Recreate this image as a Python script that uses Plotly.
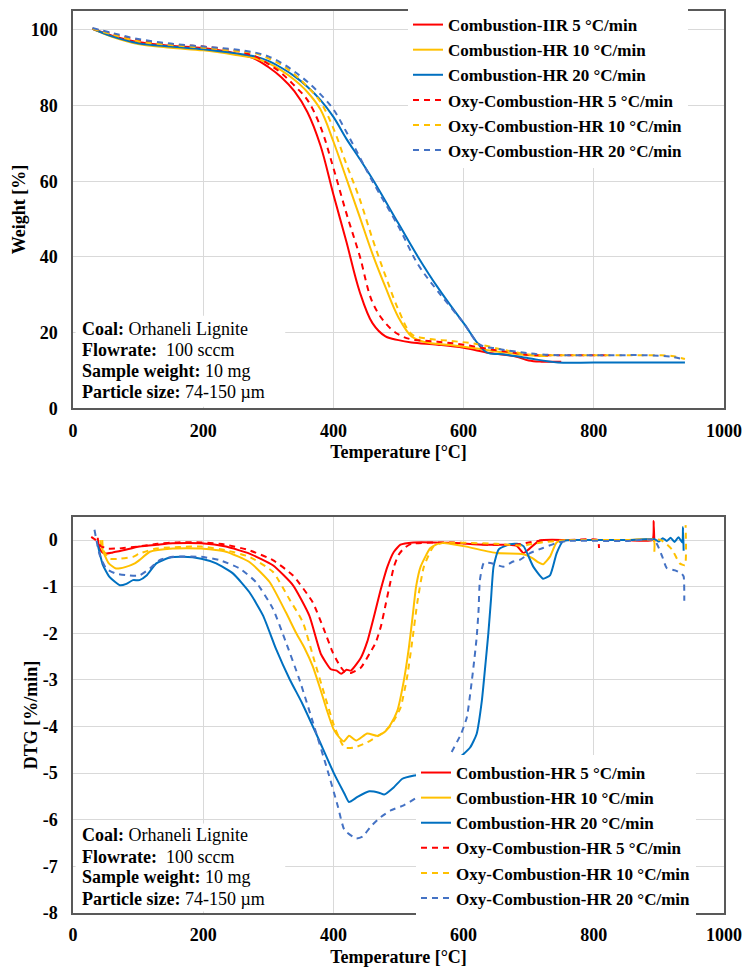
import plotly.graph_objects as go

FONT = "Liberation Serif, Times New Roman, serif"

# ---------------- TGA (weight %) ----------------
T_tga_c5 = [30, 60, 100, 150, 200, 250, 280, 300, 320, 340, 360, 380, 400, 420, 440, 460, 480, 500, 520, 560, 600, 640, 680, 700, 720, 750]
W_tga_c5 = [100.3, 98.5, 96.8, 95.8, 95.2, 93.8, 92.3, 90.2, 87.5, 83.8, 78.3, 69.5, 56.5, 44.0, 31.0, 22.5, 19.0, 18.0, 17.4, 16.8, 16.0, 14.6, 13.7, 12.6, 12.3, 12.3]

T_tga_c10 = [30, 60, 100, 150, 200, 250, 280, 300, 320, 340, 360, 380, 400, 420, 440, 460, 480, 500, 520, 540, 580, 620, 660, 700, 730]
W_tga_c10 = [100.3, 98.2, 96.3, 95.3, 94.6, 93.4, 92.5, 91.2, 89.3, 86.8, 83.6, 79.0, 70.5, 60.7, 50.8, 40.8, 32.0, 24.0, 19.0, 17.5, 16.7, 15.8, 14.8, 14.0, 13.8]

T_tga_c20 = [30, 60, 100, 150, 200, 250, 280, 300, 320, 340, 360, 380, 400, 420, 440, 460, 500, 530, 560, 600, 635, 660, 700, 745, 800, 880, 940]
W_tga_c20 = [100.3, 98.3, 96.5, 95.6, 94.9, 93.8, 93.0, 91.8, 90.0, 87.8, 85.0, 81.5, 77.0, 71.2, 66.0, 60.6, 48.8, 40.0, 32.0, 22.5, 14.8, 14.3, 13.2, 12.1, 12.1, 12.1, 12.1]

T_tga_o5 = [30, 60, 100, 150, 200, 250, 280, 300, 320, 340, 360, 380, 400, 420, 440, 460, 480, 500, 520, 560, 600, 640, 680, 700, 740, 780, 820]
W_tga_o5 = [100.3, 99.0, 97.3, 96.2, 95.6, 94.5, 93.0, 91.0, 88.6, 85.3, 81.5, 74.5, 63.5, 51.5, 40.5, 28.0, 22.5, 19.5, 18.2, 17.6, 16.8, 15.6, 14.6, 14.1, 14.0, 14.0, 14.0]

T_tga_o10 = [30, 60, 100, 150, 200, 250, 280, 300, 320, 340, 360, 380, 400, 420, 440, 460, 480, 500, 520, 540, 580, 620, 660, 700, 740, 800, 860, 900, 920, 940]
W_tga_o10 = [100.3, 98.8, 97.0, 96.0, 95.3, 94.4, 93.8, 92.5, 90.8, 88.3, 85.0, 81.0, 74.0, 64.5, 55.5, 44.8, 35.0, 26.0, 19.6, 18.5, 17.8, 17.0, 15.5, 14.2, 14.0, 14.0, 14.0, 14.0, 13.8, 13.0]

T_tga_o20 = [30, 60, 100, 150, 200, 250, 280, 300, 320, 340, 360, 380, 400, 420, 440, 460, 500, 530, 560, 600, 625, 650, 680, 720, 800, 880, 920, 940]
W_tga_o20 = [100.5, 99.2, 97.6, 96.4, 95.6, 94.8, 94.0, 93.0, 91.3, 89.0, 86.3, 83.0, 79.0, 73.0, 66.5, 60.0, 48.0, 38.0, 31.0, 22.5, 16.8, 15.8, 15.0, 14.2, 14.0, 14.0, 13.6, 12.8]

# ---------------- DTG (%/min) ----------------
T_dtg_c5 = [38, 40, 44, 50, 60, 77, 102, 130, 153, 197, 235, 271, 307, 338, 363, 381, 396, 405, 412, 420, 427, 442, 452, 463, 472, 483, 493, 503, 523, 580, 631, 665, 682, 692, 700, 717, 760, 800, 850, 890, 892, 893]
D_dtg_c5 = [0.05, -0.15, -0.25, -0.29, -0.27, -0.22, -0.14, -0.1, -0.07, -0.07, -0.14, -0.29, -0.54, -0.97, -1.62, -2.45, -2.77, -2.8, -2.87, -2.78, -2.8, -2.53, -2.18, -1.6, -1.1, -0.57, -0.25, -0.1, -0.05, -0.06, -0.1, -0.1, -0.13, -0.28, -0.2, -0.01, 0, 0, 0, 0, 0.41, -0.04]

T_dtg_c10 = [42, 45, 55, 66, 80, 95, 102, 118, 153, 197, 235, 271, 302, 327, 343, 355, 368, 380, 390, 400, 410, 416, 424, 435, 452, 468, 480, 488, 498, 508, 516, 522, 527, 534, 549, 564, 600, 651, 690, 705, 715, 722, 733, 743, 760, 800, 850, 892, 893]
D_dtg_c10 = [0.0, -0.2, -0.5, -0.61, -0.58, -0.5, -0.43, -0.25, -0.18, -0.18, -0.25, -0.47, -0.9, -1.55, -2.0, -2.3, -2.7, -3.2, -3.65, -4.05, -4.25, -4.32, -4.2, -4.3, -4.15, -4.2, -4.1, -3.95, -3.67, -3.03, -2.3, -1.6, -1.0, -0.57, -0.17, -0.06, -0.13, -0.28, -0.3, -0.38, -0.48, -0.52, -0.35, -0.05, 0, 0, 0, 0, -0.25]

T_dtg_c20 = [38, 46, 56, 72, 82, 92, 102, 113, 128, 148, 169, 197, 220, 246, 271, 292, 312, 333, 352, 376, 401, 417, 424, 437, 455, 470, 478, 493, 506, 525, 545, 569, 590, 610, 620, 628, 634, 638, 642, 646, 654, 671, 682, 692, 707, 722, 733, 743, 753, 790, 850, 893, 900, 906, 912, 918, 924, 930, 936, 937, 938]
D_dtg_c20 = [-0.1, -0.54, -0.79, -0.97, -0.94, -0.86, -0.86, -0.76, -0.5, -0.38, -0.36, -0.4, -0.5, -0.72, -1.12, -1.62, -2.34, -2.99, -3.5, -4.23, -5.01, -5.44, -5.62, -5.51, -5.39, -5.42, -5.46, -5.3, -5.12, -5.05, -5.0, -4.8, -4.7, -4.45, -4.16, -3.45, -2.6, -2.0, -1.29, -0.57, -0.2, -0.09, -0.08, -0.13, -0.57, -0.83, -0.75, -0.28, -0.02, 0, 0, 0.02, -0.03, 0.04, -0.02, 0.05, -0.04, 0.06, -0.05, 0.28, -0.23]

T_dtg_o5 = [28, 35, 42, 51, 70, 100, 130, 160, 197, 235, 271, 307, 338, 368, 385, 399, 410, 417, 427, 442, 457, 465, 473, 480, 486, 493, 500, 508, 520, 580, 640, 680, 700, 720, 760, 806, 808]
D_dtg_o5 = [0.07, 0.0, -0.12, -0.18, -0.18, -0.14, -0.08, -0.05, -0.05, -0.1, -0.22, -0.43, -0.76, -1.33, -1.9, -2.41, -2.7, -2.82, -2.85, -2.74, -2.4, -2.2, -1.85, -1.4, -1.0, -0.57, -0.32, -0.18, -0.08, -0.05, -0.1, -0.1, -0.05, -0.01, 0, 0, -0.17]

T_dtg_o10 = [45, 46, 50, 56, 72, 92, 102, 128, 197, 235, 271, 307, 332, 353, 371, 386, 402, 417, 432, 452, 473, 488, 503, 513, 521, 529, 539, 554, 569, 650, 690, 720, 760, 850, 903, 920, 932, 940, 941]
D_dtg_o10 = [0.0, -0.2, -0.3, -0.4, -0.4, -0.36, -0.29, -0.18, -0.14, -0.22, -0.36, -0.68, -1.26, -1.76, -2.6, -3.3, -4.02, -4.45, -4.45, -4.34, -4.16, -3.98, -3.6, -2.96, -2.18, -1.33, -0.57, -0.13, -0.06, -0.08, -0.12, -0.05, 0, 0, 0, -0.2, -0.5, -0.54, 0.32]

T_dtg_o20 = [33, 41, 51, 66, 87, 102, 118, 133, 153, 197, 225, 256, 281, 307, 327, 348, 371, 391, 407, 417, 435, 445, 457, 473, 488, 508, 530, 550, 564, 580, 596, 605, 615, 620, 623, 625, 631, 641, 661, 676, 687, 702, 722, 743, 758, 850, 893, 905, 912, 925, 935, 938, 939]
D_dtg_o20 = [0.22, -0.32, -0.61, -0.72, -0.76, -0.76, -0.61, -0.43, -0.36, -0.36, -0.43, -0.61, -0.9, -1.47, -2.19, -3.0, -4.02, -4.94, -5.72, -6.22, -6.4, -6.36, -6.15, -5.94, -5.8, -5.69, -5.5, -5.2, -5.0, -4.59, -4.16, -3.8, -2.74, -2.1, -1.5, -0.86, -0.49, -0.49, -0.57, -0.46, -0.42, -0.28, -0.17, -0.06, -0.02, -0.02, 0, -0.35, -0.6, -0.65, -0.72, -0.78, -1.3]

series_names = ["Combustion-HR 5 °C/min", "Combustion-HR 10 °C/min", "Combustion-HR 20 °C/min",
                "Oxy-Combustion-HR 5 °C/min", "Oxy-Combustion-HR 10 °C/min", "Oxy-Combustion-HR 20 °C/min"]
top_legend_names = ["Combustion-IIR 5 °C/min"] + series_names[1:]
series_colors = ["#FF0000", "#FFC000", "#0070C0", "#FF0000", "#FFC000", "#4472C4"]
series_dash = ["solid", "solid", "solid", "6px,5px", "6px,5px", "6px,5px"]

x_ticks = [0, 200, 400, 600, 800, 1000]
w_ticks = [0, 20, 40, 60, 80, 100]
d_ticks = [-8, -7, -6, -5, -4, -3, -2, -1, 0]
d_ticktext = ["-8", "-7", "-6", "-5", "-4", "-3", "-2", "-1", "0"]

info_labels = ["Coal:", "Flowrate:", "Sample weight:", "Particle size:"]
info_values = ["Orhaneli Lignite", " 100 sccm", "10 mg", "74-150 µm"]

tga = [(T_tga_c5, W_tga_c5), (T_tga_c10, W_tga_c10), (T_tga_c20, W_tga_c20),
       (T_tga_o5, W_tga_o5), (T_tga_o10, W_tga_o10), (T_tga_o20, W_tga_o20)]
dtg = [(T_dtg_c5, D_dtg_c5), (T_dtg_c10, D_dtg_c10), (T_dtg_c20, D_dtg_c20),
       (T_dtg_o5, D_dtg_o5), (T_dtg_o10, D_dtg_o10), (T_dtg_o20, D_dtg_o20)]

fig = go.Figure()
for i, (t, w) in enumerate(tga):
    fig.add_trace(go.Scatter(x=t, y=w, mode="lines", name=top_legend_names[i],
                             line=dict(color=series_colors[i], width=2, dash=series_dash[i],
                                       shape="spline", smoothing=1.0),
                             xaxis="x", yaxis="y", legend="legend"))
for i, (t, d) in enumerate(dtg):
    fig.add_trace(go.Scatter(x=t, y=d, mode="lines", name=series_names[i],
                             line=dict(color=series_colors[i], width=2, dash=series_dash[i],
                                       shape="spline", smoothing=0.5),
                             xaxis="x2", yaxis="y2", legend="legend2"))

tickfont = dict(family=FONT, size=18, color="black", weight="bold")
titlefont = dict(family=FONT, size=18, color="black", weight="bold")
axis_common = dict(showgrid=True, gridcolor="#D9D9D9", gridwidth=1, zeroline=False,
                   showline=True, mirror=True, linecolor="#595959", linewidth=1.5,
                   ticks="", tickfont=tickfont, automargin=False)

top_dom = [(913 - 406) / 906, 1.0]
bot_dom = [0.0, (913 - 515) / 906]

fig.update_layout(
    width=744, height=971,
    margin=dict(l=73, r=20, t=7, b=58),
    paper_bgcolor="white", plot_bgcolor="white",
    xaxis=dict(domain=[0, 1], anchor="y", range=[0, 1000], tickvals=x_ticks,
               title=dict(text="Temperature [°C]", font=titlefont, standoff=6),
               ticklabelstandoff=5, **axis_common),
    yaxis=dict(domain=top_dom, anchor="x", range=[0, 105], tickvals=w_ticks,
               title=dict(text="Weight [%]", font=titlefont, standoff=0),
               ticklabelstandoff=10, **axis_common),
    xaxis2=dict(domain=[0, 1], anchor="y2", range=[0, 1000], tickvals=x_ticks,
                title=dict(text="Temperature [°C]", font=titlefont, standoff=6),
                ticklabelstandoff=5, **axis_common),
    yaxis2=dict(domain=bot_dom, anchor="x2", range=[-8, 0.5], tickvals=d_ticks, ticktext=d_ticktext,
                title=dict(text="DTG [%/min]", font=titlefont, standoff=0),
                ticklabelstandoff=10, **axis_common),
    legend=dict(x=(408 - 73) / 651, y=1.0044, xanchor="left", yanchor="top",
                bgcolor="white", borderwidth=0,
                font=dict(family=FONT, size=17, color="black", weight="bold")),
    legend2=dict(x=(416 - 73) / 651, y=-3 / 906, xanchor="left", yanchor="bottom",
                 bgcolor="white", borderwidth=0,
                 font=dict(family=FONT, size=17, color="black", weight="bold")),
    showlegend=True,
)

# white boxes behind the info text (hide gridlines)
fig.add_shape(type="rect", xref="x domain", yref="y domain", x0=0.004, x1=0.326, y0=0.004, y1=0.233,
              fillcolor="white", line=dict(width=0), layer="above")
fig.add_shape(type="rect", xref="x2 domain", yref="y2 domain", x0=0.004, x1=0.326, y0=0.004, y1=0.226,
              fillcolor="white", line=dict(width=0), layer="above")

top_info_y = [0.2005, 0.1454, 0.0927, 0.0401]
bot_info_y = [0.196, 0.1407, 0.0905, 0.0352]
for ax, ys in (("", top_info_y), ("2", bot_info_y)):
    for lab, val, yy in zip(info_labels, info_values, ys):
        fig.add_annotation(xref=f"x{ax} domain", yref=f"y{ax} domain", x=0.011, y=yy,
                           xanchor="left", yanchor="middle", showarrow=False,
                           text=f"<b>{lab}</b> {val}",
                           font=dict(family=FONT, size=18, color="black"))

fig.write_html("out.html", config={"displayModeBar": False},
               post_script="document.body.style.margin='0px';")
